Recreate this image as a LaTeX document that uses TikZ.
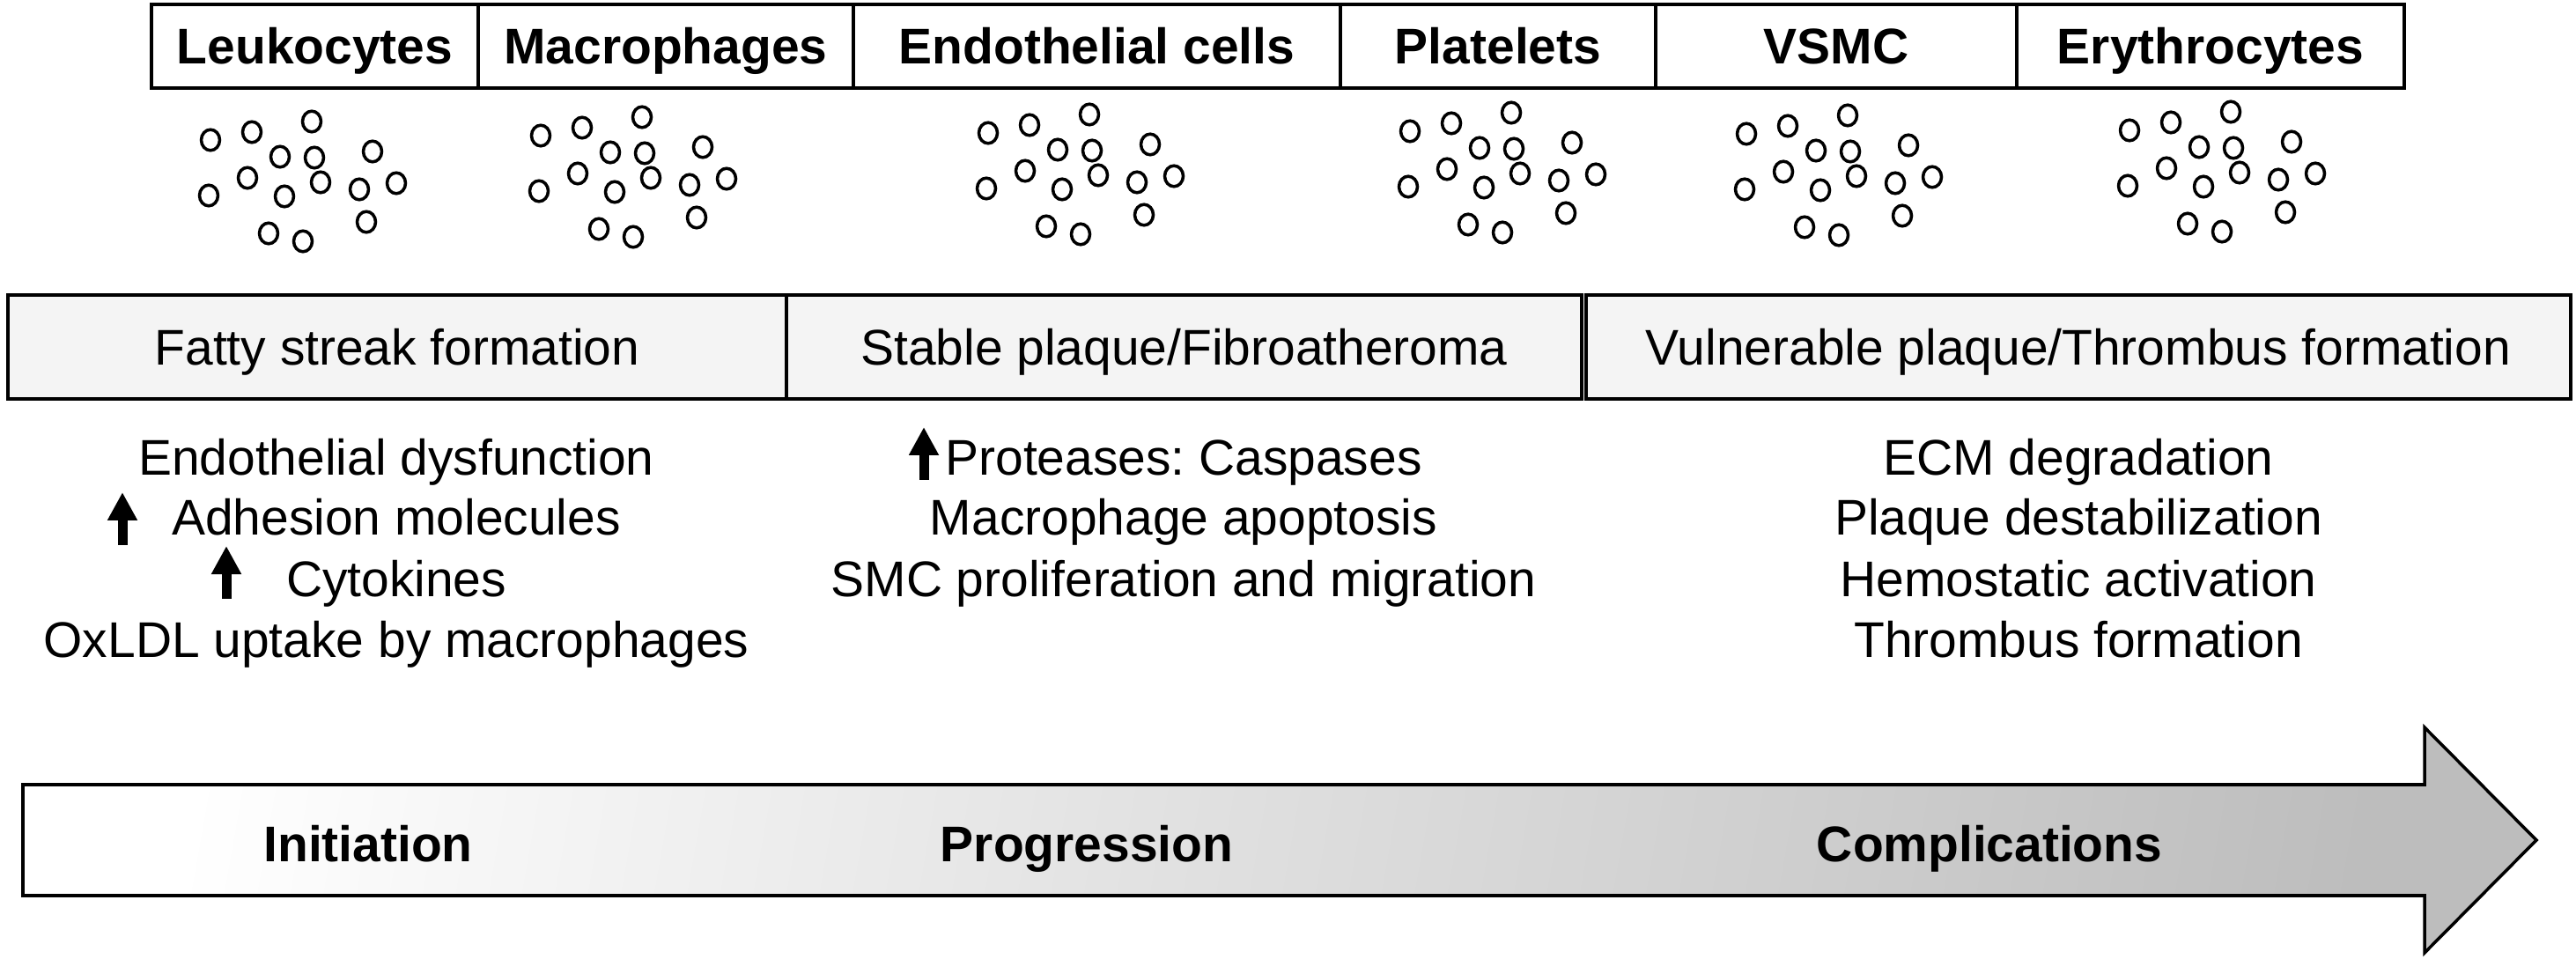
\documentclass[tikz,border=0pt]{standalone}
\usepackage{fontspec}
\setmainfont{Liberation Sans}
\setsansfont{Liberation Sans}
\usepackage{xcolor}
\definecolor{stagegray}{RGB}{244,244,244}
\usetikzlibrary{arrows.meta, positioning}
\frenchspacing

\begin{document}
\begin{tikzpicture}[
    celltype/.style={draw=black, line width=0.9pt, fill=white, inner sep=0pt, outer sep=0pt,
      minimum height=0.95cm, text height=11.6pt, text depth=0pt,
      font=\fontsize{16.2}{19}\selectfont\bfseries},
    stagebox/.style={draw=black, line width=1pt, fill=stagegray, inner sep=0pt, outer sep=0pt,
      minimum height=1.18cm, text height=11.6pt, text depth=0pt,
      font=\fontsize{16.2}{19}\selectfont},
    event/.style={anchor=base, inner sep=0pt, font=\fontsize{16.2}{19}\selectfont},
    phase/.style={anchor=base, inner sep=0pt, font=\fontsize{16.2}{19}\selectfont\bfseries},
    upmark/.style={line width=0.11cm, -{Triangle[length=0.32cm, width=0.32cm]}},
    celldot/.style={draw=black, line width=1pt, fill=white}
  ]
  \useasboundingbox (0,0) rectangle (29.25,10.88);

  % Cell types along the top
  \node[celltype, minimum width=3.71cm] (leuko) at (3.575,10.355) {Leukocytes};
  \node[celltype, minimum width=4.26cm] (macro) at (7.56,10.355) {Macrophages};
  \node[celltype, minimum width=5.53cm] (endo) at (12.455,10.355) {Endothelial cells};
  \node[celltype, minimum width=3.58cm] (plate) at (17.01,10.355) {Platelets};
  \node[celltype, minimum width=4.10cm] (vsmc) at (20.85,10.355) {VSMC};
  \node[celltype, minimum width=4.40cm] (ery) at (25.10,10.355) {Erythrocytes};

  % Scattered cells under each type
  \foreach \cx/\cy in {2.39/9.29, 6.14/9.34, 11.22/9.37, 16.01/9.39, 19.83/9.36, 24.18/9.40}
    \foreach \dx/\dy in {0/0, 0.47/0.09, 1.15/0.21, 0.79/-0.19, 1.18/-0.20, 1.84/-0.13,
                         0.42/-0.43, -0.02/-0.63, 1.25/-0.48, 0.84/-0.64, 1.69/-0.56,
                         2.11/-0.49, 1.77/-0.93, 0.66/-1.06, 1.05/-1.15}
      \draw[celldot] ([shift={(\dx,\dy)}]\cx,\cy) ellipse [x radius=0.105, y radius=0.118];

  % Stages of the lesion
  \node[stagebox, minimum width=8.84cm] (fatty) at (4.51,6.94) {Fatty streak formation};
  \node[stagebox, minimum width=9.03cm] (stable) at (13.445,6.94) {Stable plaque/Fibroatheroma};
  \node[stagebox, minimum width=11.18cm] (vuln) at (23.60,6.94) {Vulnerable plaque/Thrombus formation};

  % Events of each stage
  \node[event] (dysf) at (4.50,5.48) {Endothelial dysfunction};
  \node[event] (adh) at (4.50,4.80) {Adhesion molecules};
  \node[event] (cyto) at (4.50,4.11) {Cytokines};
  \node[event] (oxldl) at (4.50,3.42) {OxLDL uptake by macrophages};

  \node[event] (prot) at (13.44,5.48) {Proteases: Caspases};
  \node[event] (apop) at (13.44,4.80) {Macrophage apoptosis};
  \node[event] (smc) at (13.44,4.11) {SMC proliferation and migration};

  \node[event] (ecm) at (23.60,5.48) {ECM degradation};
  \node[event] (destab) at (23.60,4.80) {Plaque destabilization};
  \node[event] (hemo) at (23.60,4.11) {Hemostatic activation};
  \node[event] (thromb) at (23.60,3.42) {Thrombus formation};

  % Increase marks
  \coordinate (adhlo) at (1.39,4.69);
  \coordinate (adhhi) at (1.39,5.29);
  \coordinate (cytlo) at (2.57,4.08);
  \coordinate (cythi) at (2.57,4.68);
  \coordinate (protlo) at (10.49,5.43);
  \coordinate (prothi) at (10.49,6.03);
  \draw[upmark] (adhlo) -- (adhhi);
  \draw[upmark] (cytlo) -- (cythi);
  \draw[upmark] (protlo) -- (prothi);

  % Time arrow at the bottom
  \draw[line width=1pt, left color=white, middle color=black!4, right color=black!26, shading angle=80]
    (0.26,1.97) -- (27.53,1.97) -- (27.53,2.62) -- (28.80,1.34) -- (27.53,0.06)
    -- (27.53,0.71) -- (0.26,0.71) -- cycle;
  \node[phase] (init) at (4.18,1.10) {Initiation};
  \node[phase] (prog) at (12.34,1.10) {Progression};
  \node[phase] (compl) at (22.59,1.10) {Complications};
\end{tikzpicture}
\end{document}
